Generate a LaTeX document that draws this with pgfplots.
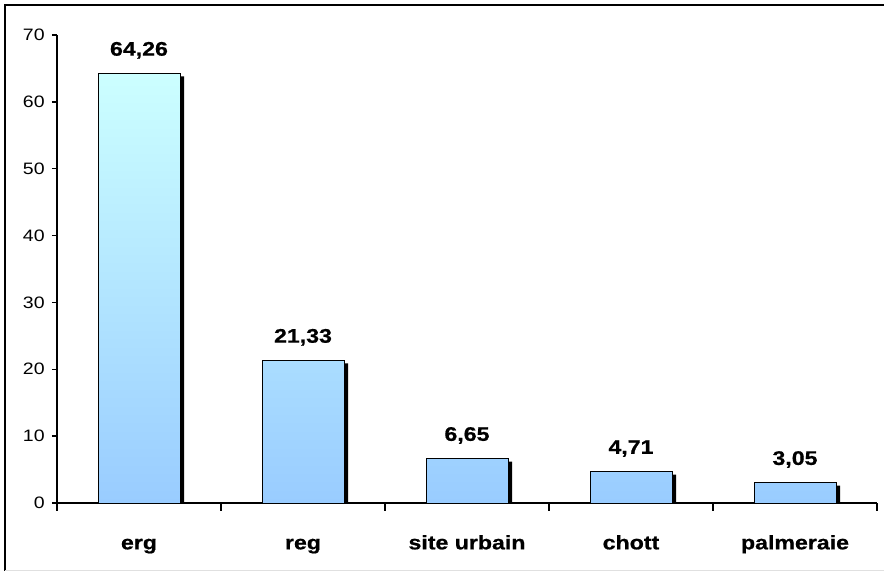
\documentclass[border=0pt]{standalone}
\usepackage{pgfplots}
\pgfplotsset{compat=1.18}
\usepackage{fontspec}
\setmainfont{Liberation Sans}[FakeStretch=1.18, BoldFeatures={FakeBold=0.8}]
\definecolor{bartop}{RGB}{204,255,255}
\definecolor{barbot}{RGB}{153,204,255}
\pgfplotstableread{
x y lab
0 64.26 64,26
1 21.33 21,33
2 6.65 6,65
3 4.71 4,71
4 3.05 3,05
}\bardata
\begin{document}
\begin{tikzpicture}
\useasboundingbox (-42.75pt,-52.5pt) rectangle (620.25pt,377.25pt);
\draw[line width=1.5pt] (-39pt,-51pt) -- (-39pt,373.5pt) -- (620.25pt,373.5pt);
\draw[black!12,line width=0.75pt] (-39pt,-51pt) -- (620.25pt,-51pt);
\begin{axis}[
  at={(0pt,0pt)}, anchor=south west,
  width=615pt, height=351pt, scale only axis,
  xmin=-0.5, xmax=4.5, ymin=0, ymax=70,
  axis lines=left,
  axis line style={-, line width=1pt, black},
  ytick={0,10,...,70},
  xtick={0,1,2,3,4},
  xticklabels={erg,reg,site urbain,chott,palmeraie},
  minor xtick={-0.5,0.5,1.5,2.5,3.5,4.5},
  tick align=outside,
  major tick length=3.75pt, minor tick length=6pt,
  major x tick style={draw=none},
  tick style={line width=1pt, black},
  /pgf/number format/assume math mode=true,
  yticklabel style={font=\fontsize{12.4}{14}\selectfont, xshift=-2pt},
  xticklabel style={font=\bfseries\fontsize{14.7}{17}\selectfont, anchor=base, yshift=-31pt},
  ybar, bar width=0.5,
]
\addplot[fill=black, draw=none, bar shift=3pt, transform canvas={yshift=-2.25pt}, forget plot]
  table[x=x, y=y] {\bardata};
\addplot[draw=black, line width=0.5pt, top color=bartop, bottom color=barbot, bar shift=0pt,
  point meta=explicit symbolic, nodes near coords,
  every node near coord/.append style={font=\bfseries\fontsize{14.7}{17}\selectfont, anchor=base, yshift=13.3pt, black}]
  table[x=x, y=y, meta=lab] {\bardata};
\end{axis}
\end{tikzpicture}
\end{document}
